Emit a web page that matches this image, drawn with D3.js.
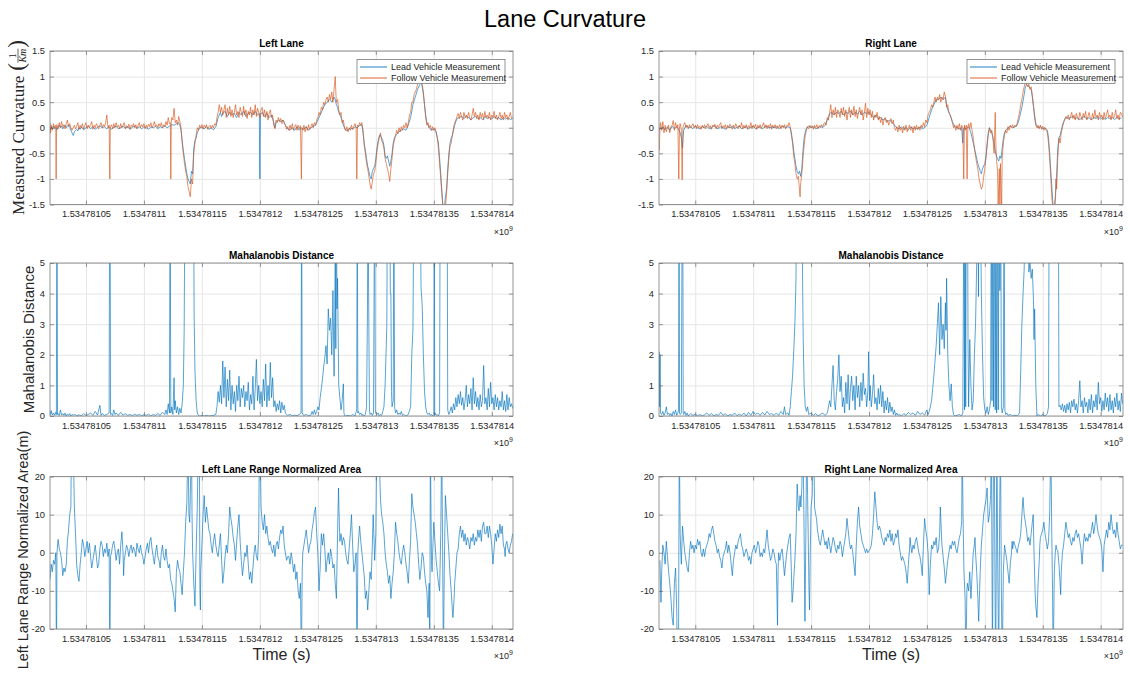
<!DOCTYPE html>
<html>
<head>
<meta charset="utf-8">
<script src="https://cdn.jsdelivr.net/npm/d3@7"></script>
<style>
  html, body { margin: 0; padding: 0; background: #fff; }
  svg { display: block; }
</style>
</head>
<body>
<svg id="fig" width="1130" height="673"></svg>
<script>
// Timestamps are stored as seconds after T0 (Unix time).
const T0 = 1534781000;

const timeTicks = [1534781050, 1534781100, 1534781150, 1534781200, 1534781250, 1534781300, 1534781350, 1534781400];
const timeTickLabels = ["1.53478105", "1.5347811", "1.53478115", "1.5347812", "1.53478125", "1.5347813", "1.53478135", "1.5347814"];
const curvTicks = [-1.5, -1, -0.5, 0, 0.5, 1, 1.5];
const mahalTicks = [0, 1, 2, 3, 4, 5];
const areaTicks = [-20, -10, 0, 10, 20];
const seriesNames = ["Lead Vehicle Measurement", "Follow Vehicle Measurement"];

// Left lane curvature, lead vehicle: [seconds after T0, 1/km]
const leftLead = [[19,-0.05],[20,0.02],[21,-0.03],[22,0.03],[23,-0.02],[24,0.0],[25,-0.04],[26,0.02],[27,0.05],[28,0.0],[29,0.03],[30,-0.02],[31,0.02],[32,0.05],[33,0.0],[34,0.03],[35,0.06],[36,0.02],[37,-0.05],[38,-0.1],[39,-0.15],[40,-0.08],[41,-0.05],[42,-0.03],[43,-0.06],[44,0.0],[45,-0.03],[46,0.02],[48,-0.04],[50,0.0],[52,0.03],[54,-0.02],[56,0.02],[58,-0.03],[60,0.01],[62,0.04],[64,0.0],[66,0.02],[68,-0.02],[70,0.02],[72,-0.03],[74,0.01],[76,0.03],[78,-0.02],[80,0.0],[82,0.03],[84,-0.01],[86,0.02],[88,-0.03],[90,0.01],[92,0.03],[94,-0.01],[96,0.02],[98,-0.02],[100,0.02],[102,0.0],[104,-0.03],[106,0.02],[108,0.0],[110,0.03],[112,-0.02],[114,0.02],[116,0.0],[118,0.04],[120,0.0],[122,0.03],[124,0.06],[126,0.05],[128,0.08],[130,0.1],[131,0.05],[132,-0.05],[133,-0.25],[134,-0.45],[135,-0.6],[136,-0.75],[137,-0.9],[138,-1.0],[139,-1.05],[140,-1.1],[141,-0.85],[142,-0.9],[143,-0.4],[144,-0.25],[145,-0.2],[146,-0.1],[147,-0.05],[148,0.0],[150,0.0],[152,-0.02],[154,0.02],[156,-0.03],[158,0.0],[160,-0.04],[162,0.02],[163,0.1],[164,0.2],[165,0.25],[166,0.3],[167,0.22],[168,0.28],[170,0.32],[172,0.22],[174,0.3],[176,0.25],[178,0.28],[180,0.2],[182,0.3],[184,0.25],[186,0.32],[188,0.22],[190,0.28],[192,0.3],[194,0.25],[196,0.32],[198,0.25],[199.5,0.28],[200,-1.0],[200.5,0.25],[202,0.3],[204,0.22],[206,0.28],[208,0.2],[210,0.25],[212,0.1],[213,0.0],[214,0.1],[216,0.15],[218,0.12],[220,0.15],[222,0.05],[224,-0.02],[226,-0.05],[228,0.0],[230,-0.05],[232,0.02],[234,-0.05],[236,0.0],[238,-0.03],[240,0.02],[242,-0.05],[244,0.0],[246,0.03],[248,0.05],[250,0.15],[252,0.25],[254,0.35],[256,0.45],[258,0.5],[260,0.55],[262,0.5],[264,0.6],[265,0.55],[266,0.45],[267,0.4],[268,0.3],[270,0.2],[272,0.05],[274,-0.05],[276,-0.05],[278,0.0],[280,-0.03],[282,0.02],[284,0.0],[286,0.05],[288,0.05],[289,-0.1],[290,-0.3],[291,-0.45],[292,-0.6],[293,-0.75],[294,-0.85],[295,-0.95],[296,-1.0],[297,-0.85],[298,-0.8],[299,-0.75],[300,-0.6],[301,-0.4],[302,-0.25],[303,-0.15],[304,-0.15],[305,-0.2],[306,-0.25],[307,-0.35],[308,-0.55],[309,-0.6],[310,-0.55],[311,-0.65],[312,-0.75],[313,-0.65],[314,-0.5],[315,-0.3],[316,-0.2],[318,-0.12],[320,-0.08],[322,-0.05],[324,-0.02],[326,-0.05],[328,0.05],[330,0.2],[332,0.45],[334,0.6],[336,0.75],[338,0.85],[339,0.9],[340,0.8],[341,0.65],[342,0.45],[343,0.25],[344,0.1],[346,0.0],[348,-0.05],[350,-0.02],[352,-0.08],[354,-0.3],[355,-0.6],[356,-0.9],[357,-1.25],[358,-1.6],[359,-1.6],[360,-1.35],[361,-1.2],[362,-0.8],[363,-0.5],[364,-0.3],[365,-0.2],[366,-0.15],[367,-0.05],[368,0.05],[369,0.12],[370,0.18],[372,0.2],[374,0.22],[376,0.18],[378,0.22],[380,0.2],[382,0.15],[384,0.2],[386,0.22],[388,0.18],[390,0.2],[392,0.16],[394,0.22],[396,0.18],[398,0.2],[400,0.17],[402,0.22],[404,0.18],[406,0.2],[408,0.15],[410,0.2],[412,0.17],[414,0.2],[416,0.16],[418,0.18]];

// Left lane curvature, follow vehicle
const leftFollow = [[19,0.1],[19.5,-0.1],[20,0.05],[21,-0.05],[22,0.08],[23,0.0],[24,0.05],[24.3,-1.0],[24.6,0.02],[25,0.06],[26,-0.02],[27,0.1],[28,0.0],[29,0.12],[30,0.02],[31,0.06],[32,-0.02],[33,0.08],[34,0.15],[35,0.02],[36,0.08],[37,0.0],[38,-0.05],[39,0.0],[40,0.05],[41,-0.02],[42,0.03],[43,0.1],[44,-0.03],[45,0.05],[46,0.0],[47,0.08],[48,-0.03],[49,0.04],[50,0.1],[51,-0.02],[52,0.05],[53,0.0],[54,0.06],[55,0.12],[56,-0.03],[57,0.05],[58,0.0],[59,0.08],[60,0.03],[61,-0.02],[62,0.05],[63,0.1],[64,0.0],[65,0.06],[66,0.02],[67,0.1],[68,0.25],[69,0.0],[70,0.05],[70.6,-1.0],[71,0.02],[72,0.06],[73,-0.02],[74,0.08],[75,0.0],[76,0.1],[77,0.02],[78,0.05],[79,-0.02],[80,0.08],[81,0.0],[82,0.05],[83,0.1],[84,-0.02],[85,0.04],[86,0.0],[87,0.07],[88,-0.03],[89,0.05],[90,0.02],[91,0.08],[92,0.0],[93,0.06],[94,-0.02],[95,0.05],[96,0.1],[97,0.0],[98,0.06],[99,0.02],[100,0.08],[101,-0.02],[102,0.05],[103,0.0],[104,0.07],[105,0.02],[106,0.1],[107,0.0],[108,0.05],[109,0.12],[110,0.02],[111,0.06],[112,0.0],[113,0.08],[114,0.03],[115,0.1],[116,0.0],[117,0.06],[118,0.02],[119,0.12],[120,0.05],[121,0.2],[122,0.08],[122.8,0.1],[123.2,-1.0],[123.6,0.1],[124,0.2],[125,0.15],[126,0.38],[127,0.1],[128,0.15],[129,0.05],[130,0.22],[131,0.12],[132,0.0],[133,-0.3],[134,-0.5],[135,-0.7],[136,-0.85],[137,-0.95],[138,-1.15],[139,-1.25],[140,-1.35],[141,-1.0],[142,-1.1],[143,-0.5],[144,-0.3],[145,-0.15],[146,0.0],[147,-0.05],[148,0.05],[149,0.0],[150,0.06],[151,-0.02],[152,0.05],[153,0.0],[154,0.06],[155,-0.03],[156,0.02],[157,0.05],[158,-0.02],[159,0.05],[160,0.0],[161,0.08],[162,0.05],[163,0.2],[164,0.3],[165,0.45],[166,0.3],[167,0.4],[168,0.25],[169,0.35],[170,0.45],[171,0.2],[172,0.38],[173,0.25],[174,0.42],[175,0.22],[176,0.35],[177,0.2],[178,0.3],[179,0.45],[180,0.25],[181,0.32],[182,0.2],[183,0.4],[184,0.3],[185,0.22],[186,0.42],[187,0.25],[188,0.35],[189,0.18],[190,0.32],[191,0.25],[192,0.4],[193,0.2],[194,0.35],[195,0.25],[196,0.45],[197,0.22],[198,0.38],[199,0.3],[200,0.2],[201,0.35],[202,0.4],[203,0.22],[204,0.35],[205,0.2],[206,0.32],[207,0.15],[208,0.28],[209,0.35],[210,0.2],[211,0.25],[212,0.05],[213,-0.02],[214,0.15],[215,0.1],[216,0.2],[217,0.12],[218,0.18],[219,0.08],[220,0.15],[221,0.1],[222,0.05],[223,-0.03],[224,0.02],[225,-0.05],[226,0.05],[227,-0.03],[228,0.08],[229,-0.05],[230,0.02],[231,0.06],[232,-0.05],[233,0.05],[234,-0.02],[235,0.04],[235.8,-1.0],[236.4,0.0],[237,-0.05],[238,0.05],[239,-0.08],[240,0.02],[241,-0.05],[242,0.06],[243,-0.03],[244,0.02],[245,0.08],[246,0.0],[247,0.1],[248,0.05],[249,0.15],[250,0.2],[251,0.3],[252,0.25],[253,0.4],[254,0.35],[255,0.5],[256,0.45],[257,0.55],[258,0.6],[259,0.5],[260,0.65],[261,0.55],[262,0.7],[263,0.5],[264,0.75],[265,1.0],[265.5,0.7],[266,0.5],[267,0.55],[268,0.35],[269,0.25],[270,0.3],[271,0.1],[272,0.15],[273,0.0],[274,-0.05],[275,0.02],[276,-0.08],[277,0.0],[278,-0.05],[279,0.05],[280,-0.03],[281,0.02],[282,0.08],[283,0.0],[283.6,-1.0],[284.2,0.05],[285,0.02],[286,0.1],[287,0.05],[288,0.1],[289,-0.05],[290,-0.35],[291,-0.5],[292,-0.7],[293,-0.8],[294,-0.95],[295,-1.1],[296,-1.2],[297,-1.05],[298,-0.9],[299,-0.85],[300,-0.7],[301,-0.45],[302,-0.3],[303,-0.2],[304,-0.1],[305,-0.25],[306,-0.3],[307,-0.4],[308,-0.6],[309,-0.7],[310,-0.8],[311,-0.9],[312,-1.05],[313,-0.8],[314,-0.6],[315,-0.35],[316,-0.25],[317,-0.15],[318,-0.05],[319,-0.12],[320,0.0],[321,-0.08],[322,0.02],[323,-0.05],[324,0.05],[325,0.0],[326,0.1],[327,0.0],[328,0.1],[329,0.25],[330,0.3],[331,0.5],[332,0.5],[333,0.65],[334,0.7],[335,0.75],[336,0.85],[337,0.9],[338,0.95],[339,0.9],[340,0.85],[341,0.7],[342,0.45],[343,0.2],[344,0.05],[345,0.1],[346,0.0],[347,0.05],[348,-0.05],[349,0.02],[350,-0.05],[351,0.0],[352,-0.1],[353,-0.2],[354,-0.4],[355,-0.7],[356,-1.0],[357,-1.3],[358,-1.6],[359,-1.7],[360,-1.55],[361,-1.3],[362,-0.9],[363,-0.6],[364,-0.35],[365,-0.3],[366,-0.15],[367,0.0],[368,0.1],[369,0.15],[370,0.22],[371,0.28],[372,0.18],[373,0.3],[374,0.22],[375,0.15],[376,0.3],[377,0.2],[378,0.25],[379,0.18],[380,0.3],[381,0.2],[382,0.15],[383,0.25],[384,0.38],[385,0.22],[386,0.3],[387,0.18],[388,0.25],[389,0.15],[390,0.3],[391,0.2],[392,0.28],[393,0.15],[394,0.32],[395,0.2],[396,0.25],[397,0.18],[398,0.3],[399,0.15],[400,0.25],[401,0.2],[402,0.32],[403,0.18],[404,0.25],[405,0.15],[406,0.22],[407,0.3],[408,0.18],[409,0.25],[410,0.15],[411,0.3],[412,0.2],[413,0.25],[414,0.15],[415,0.22],[416,0.3],[417,0.18],[418,0.2]];

// Right lane curvature, lead vehicle
const rightLead = [[19,-0.05],[20,0.0],[21,-0.03],[22,0.02],[24,-0.04],[26,0.02],[28,-0.05],[30,0.03],[32,-0.02],[34,0.02],[36,-0.05],[37,-0.1],[38,-0.2],[39,-0.4],[39.5,-0.2],[40,-0.05],[41,0.0],[42,0.05],[44,0.0],[46,0.02],[48,-0.02],[50,0.03],[52,0.0],[54,-0.02],[56,0.02],[58,0.0],[60,0.03],[62,-0.02],[64,0.0],[66,0.04],[68,0.0],[70,-0.02],[72,0.02],[74,0.0],[76,-0.03],[78,0.02],[80,0.0],[82,0.03],[84,-0.02],[86,0.01],[88,0.03],[90,-0.02],[92,0.0],[94,0.02],[96,-0.02],[98,0.01],[100,0.03],[102,-0.02],[104,0.0],[106,0.02],[108,-0.02],[110,0.01],[112,0.03],[114,-0.01],[116,0.02],[118,0.0],[120,0.02],[122,-0.02],[124,0.01],[126,0.03],[128,0.0],[130,0.02],[132,0.0],[133,-0.1],[134,-0.25],[135,-0.45],[136,-0.6],[137,-0.75],[138,-0.85],[139,-0.9],[140,-0.85],[141,-0.95],[142,-0.8],[143,-0.45],[144,-0.2],[145,-0.08],[146,0.0],[148,0.03],[150,0.0],[152,0.02],[154,-0.02],[156,0.0],[158,0.03],[160,0.0],[162,0.05],[163,0.1],[164,0.15],[165,0.2],[166,0.28],[168,0.3],[170,0.25],[172,0.3],[174,0.28],[176,0.32],[178,0.25],[180,0.3],[182,0.28],[184,0.33],[186,0.25],[188,0.3],[190,0.27],[192,0.32],[194,0.25],[196,0.3],[198,0.28],[200,0.3],[202,0.25],[204,0.2],[206,0.25],[208,0.18],[210,0.2],[212,0.15],[214,0.18],[216,0.12],[218,0.15],[220,0.1],[222,0.05],[224,0.0],[226,-0.02],[228,0.02],[230,-0.03],[232,0.0],[234,-0.04],[236,0.02],[238,-0.02],[240,0.0],[242,-0.03],[244,0.02],[246,-0.02],[248,0.0],[250,0.05],[252,0.2],[254,0.35],[256,0.45],[258,0.55],[260,0.55],[262,0.6],[264,0.55],[266,0.6],[267,0.45],[268,0.35],[270,0.25],[272,0.12],[274,0.02],[276,0.0],[278,-0.02],[280,0.0],[281,-0.3],[281.5,-0.05],[282,0.0],[284,-0.02],[286,0.02],[288,-0.1],[290,-0.3],[292,-0.5],[294,-0.7],[296,-0.85],[297,-0.9],[298,-0.8],[300,-0.7],[301,-0.55],[302,-0.3],[303,-0.1],[304,0.0],[305,-0.05],[306,-0.1],[307,-0.2],[308,-0.3],[309,-0.45],[310,-0.55],[311,-0.6],[312,-0.65],[313,-0.55],[314,-0.6],[315,-0.4],[316,-0.2],[317,-0.1],[318,-0.05],[320,0.0],[322,0.03],[324,0.0],[326,0.02],[328,0.05],[330,0.2],[332,0.4],[334,0.65],[335,0.8],[336,0.85],[338,0.8],[340,0.75],[341,0.6],[342,0.4],[343,0.2],[344,0.05],[346,0.0],[348,0.02],[350,-0.02],[352,0.0],[354,-0.05],[355,-0.2],[356,-0.5],[357,-0.85],[358,-1.2],[359,-1.55],[360,-1.6],[361,-1.3],[362,-0.9],[363,-0.4],[364,-0.2],[365,-0.15],[366,-0.05],[367,0.05],[368,0.12],[369,0.17],[370,0.2],[372,0.18],[374,0.2],[376,0.22],[378,0.18],[380,0.2],[382,0.16],[384,0.2],[386,0.22],[388,0.17],[390,0.2],[392,0.15],[394,0.2],[396,0.18],[398,0.21],[400,0.17],[402,0.2],[404,0.16],[406,0.2],[408,0.18],[410,0.2],[412,0.16],[414,0.2],[416,0.18],[418,0.19]];

// Right lane curvature, follow vehicle
const rightFollow = [[19,-0.45],[19.5,0.0],[20,0.1],[21,-0.05],[22,0.12],[23,-0.1],[24,0.05],[25,-0.08],[26,0.0],[27,0.05],[28,-0.1],[29,0.02],[30,0.05],[31,0.14],[32,-0.05],[33,0.1],[34,0.0],[35,0.06],[35.8,-1.0],[36.4,0.02],[37,0.08],[38,-0.05],[38.7,-1.02],[39.3,0.0],[40,0.06],[41,0.1],[42,0.0],[43,0.05],[44,-0.02],[45,0.06],[46,0.0],[47,0.04],[48,0.08],[49,0.0],[50,0.05],[51,-0.02],[52,0.06],[53,0.0],[54,0.03],[55,-0.03],[56,0.05],[57,0.0],[58,0.06],[59,-0.02],[60,0.04],[61,0.08],[62,0.0],[63,0.04],[64,-0.03],[65,0.05],[66,0.02],[67,0.07],[68,-0.02],[69,0.05],[70,0.0],[71,0.06],[72,0.1],[73,-0.02],[74,0.04],[75,0.0],[76,0.06],[77,-0.03],[78,0.05],[79,0.0],[80,0.07],[81,0.02],[82,-0.03],[83,0.05],[84,0.0],[85,0.08],[86,0.02],[87,-0.02],[88,0.05],[89,0.0],[90,0.1],[91,-0.02],[92,0.05],[93,0.0],[94,0.06],[95,-0.03],[96,0.04],[97,0.0],[98,0.1],[99,-0.02],[100,0.05],[101,0.0],[102,0.07],[103,-0.03],[104,0.05],[105,0.0],[106,0.06],[107,-0.02],[108,0.04],[109,0.1],[110,0.0],[111,0.06],[112,-0.02],[113,0.05],[114,0.0],[115,0.08],[116,-0.03],[117,0.05],[118,0.0],[119,0.06],[120,-0.02],[121,0.04],[122,0.0],[123,0.06],[124,-0.02],[125,0.05],[126,0.0],[127,0.06],[128,-0.02],[129,0.05],[130,0.03],[131,0.1],[132,0.02],[133,-0.15],[134,-0.3],[135,-0.55],[136,-0.7],[137,-0.9],[138,-1.0],[139,-0.95],[140,-1.2],[140.5,-1.35],[141,-1.1],[142,-0.9],[143,-0.6],[144,-0.35],[145,-0.15],[146,-0.05],[147,0.02],[148,-0.02],[149,0.05],[150,0.0],[151,0.04],[152,-0.03],[153,0.05],[154,0.0],[155,0.06],[156,-0.02],[157,0.04],[158,0.0],[159,0.06],[160,0.02],[161,0.08],[162,0.1],[163,0.05],[164,0.2],[165,0.15],[166,0.3],[167,0.45],[168,0.2],[169,0.35],[170,0.25],[171,0.4],[172,0.2],[173,0.35],[174,0.3],[175,0.2],[176,0.38],[177,0.25],[178,0.4],[179,0.22],[180,0.35],[181,0.15],[182,0.3],[183,0.4],[184,0.2],[185,0.35],[186,0.25],[187,0.42],[188,0.22],[189,0.35],[190,0.18],[191,0.3],[192,0.4],[193,0.25],[194,0.35],[195,0.15],[196,0.3],[197,0.48],[198,0.2],[199,0.38],[200,0.25],[201,0.35],[202,0.2],[203,0.32],[204,0.15],[205,0.25],[206,0.2],[207,0.3],[208,0.15],[209,0.22],[210,0.1],[211,0.2],[212,0.05],[213,0.15],[214,0.2],[215,0.1],[216,0.15],[217,0.05],[218,0.12],[219,0.18],[220,0.08],[221,0.15],[222,0.0],[223,-0.05],[224,0.02],[225,-0.08],[226,0.05],[227,-0.05],[228,0.0],[229,-0.1],[230,0.03],[231,-0.05],[232,0.05],[233,-0.08],[234,0.0],[235,0.05],[236,-0.05],[237,0.02],[238,-0.1],[239,0.03],[240,-0.05],[241,0.05],[242,-0.03],[243,0.02],[244,-0.05],[245,0.05],[246,0.0],[247,0.1],[248,0.02],[249,0.15],[250,0.1],[251,0.25],[252,0.3],[253,0.35],[254,0.45],[255,0.4],[256,0.5],[257,0.6],[258,0.5],[259,0.6],[260,0.55],[261,0.65],[262,0.5],[263,0.6],[264,0.55],[265,0.7],[266,0.6],[267,0.4],[268,0.45],[269,0.3],[270,0.25],[271,0.2],[272,0.1],[273,0.0],[274,0.05],[275,-0.05],[276,0.05],[277,-0.03],[278,0.08],[279,-0.05],[280,0.05],[281,0.0],[281.8,-1.0],[282.4,0.05],[283,-0.05],[284,0.05],[284.7,-1.0],[285.3,0.02],[286,0.08],[287,-0.02],[288,0.1],[289,-0.05],[290,-0.2],[291,-0.4],[292,-0.55],[293,-0.7],[294,-0.8],[295,-1.0],[296,-1.1],[297,-1.2],[298,-1.15],[299,-0.95],[300,-0.8],[301,-0.6],[302,-0.35],[303,-0.15],[304,0.0],[305,-0.1],[306,-0.05],[307,-0.2],[308,-0.5],[309,0.3],[309.5,-0.3],[310,-0.6],[311,-0.85],[311.5,-1.5],[312,-1.2],[312.5,-0.8],[313,-1.6],[313.5,-0.7],[314,-1.2],[314.5,-1.6],[315,-0.6],[316,-0.3],[317,-0.15],[318,-0.05],[319,-0.1],[320,0.02],[321,-0.05],[322,0.05],[323,0.0],[324,0.06],[325,0.0],[326,0.05],[327,0.02],[328,0.1],[329,0.2],[330,0.3],[331,0.45],[332,0.55],[333,0.7],[334,0.8],[335,0.9],[336,0.85],[337,0.8],[338,0.85],[339,0.75],[340,0.8],[341,0.65],[342,0.45],[343,0.25],[344,0.1],[345,0.0],[346,0.05],[347,-0.02],[348,0.05],[349,-0.03],[350,0.03],[351,-0.05],[352,0.0],[353,-0.05],[354,-0.1],[355,-0.3],[356,-0.6],[357,-1.0],[358,-1.4],[359,-1.6],[360,-1.6],[361,-1.4],[361.5,-1.0],[362,-1.2],[363,-0.6],[364,-0.2],[365,-0.3],[366,-0.1],[367,0.0],[368,0.1],[369,0.15],[370,0.22],[371,0.18],[372,0.25],[373,0.15],[374,0.22],[375,0.3],[376,0.18],[377,0.25],[378,0.15],[379,0.28],[380,0.2],[381,0.15],[382,0.3],[383,0.22],[384,0.15],[385,0.28],[386,0.2],[387,0.32],[388,0.15],[389,0.22],[390,0.3],[391,0.2],[392,0.15],[393,0.28],[394,0.18],[395,0.35],[396,0.2],[397,0.25],[398,0.15],[399,0.3],[400,0.2],[401,0.25],[402,0.15],[403,0.3],[404,0.18],[405,0.25],[406,0.35],[407,0.2],[408,0.25],[409,0.15],[410,0.3],[411,0.18],[412,0.22],[413,0.35],[414,0.18],[415,0.25],[416,0.15],[417,0.3],[418,0.28],[419,0.2]];

// Mahalanobis distance, left lane (values above 5 run off the top of the axes)
const leftMahal = [[19,0.15],[19.5,0.05],[20,0.18],[21,0.03],[22,0.1],[23,0.02],[24,0.12],[24.5,0.05],[25,8],[25.5,0.05],[26,0.08],[27,0.02],[28,0.2],[29,0.03],[30,0.08],[31,0.02],[32,0.1],[33,0.0],[34,0.06],[35,0.02],[36,0.08],[37,0.0],[38,0.05],[39,0.02],[40,0.06],[42,0.01],[44,0.04],[46,0.0],[48,0.08],[50,0.02],[52,0.05],[54,0.1],[56,0.02],[58,0.15],[60,0.03],[62,0.35],[63,0.02],[64,0.08],[66,0.02],[68,0.05],[70,0.1],[70.4,8],[70.8,8],[71.2,0.05],[72,0.08],[73,0.02],[74,0.2],[75,0.05],[76,0.1],[78,0.02],[80,0.12],[82,0.03],[84,0.08],[86,0.02],[88,0.05],[90,0.01],[92,0.06],[94,0.02],[96,0.05],[98,0.01],[100,0.04],[102,0.02],[104,0.06],[106,0.0],[108,0.05],[110,0.02],[112,0.08],[114,0.02],[116,0.12],[118,0.05],[119,0.2],[120,0.05],[121,0.4],[122,0.1],[122.6,8],[123.2,0.1],[124,0.3],[125,0.05],[126,1.25],[126.5,0.2],[127,0.5],[128,0.1],[129,0.3],[130,0.05],[131,0.25],[132,0.1],[133,0.4],[134,1.0],[134.7,2.8],[135.5,8],[136,8],[138,8],[140,8],[142,8],[142.8,8],[143.3,3.3],[144,1.5],[145,0.5],[146,0.1],[147,0.02],[148,0.0],[150,0.01],[152,0.0],[154,0.02],[156,0.0],[158,0.01],[160,0.02],[162,0.05],[163,0.3],[164,0.8],[165,0.45],[166,1.0],[167,0.4],[168,1.8],[169,0.6],[170,1.6],[171,0.3],[172,1.2],[173,0.5],[174,1.5],[175,0.2],[176,1.0],[177,0.4],[178,0.8],[179,0.15],[180,1.0],[181,0.5],[182,1.3],[183,0.3],[184,0.9],[185,0.6],[186,1.0],[187,0.3],[188,0.8],[189,0.5],[190,1.1],[191,0.2],[192,0.7],[193,0.4],[194,1.3],[195,0.2],[196,0.9],[197,1.85],[198,0.5],[199,1.0],[200,0.4],[201,0.8],[202,0.3],[203,1.2],[204,0.5],[205,1.7],[206,0.3],[207,1.0],[208,0.5],[209,1.75],[210,0.6],[211,1.25],[212,0.3],[213,0.5],[214,0.15],[215,0.4],[216,0.2],[217,0.5],[218,0.1],[219,0.45],[220,0.2],[221,0.35],[222,0.1],[223,0.05],[224,0.02],[226,0.05],[228,0.0],[230,0.03],[232,0.01],[234,0.05],[235.5,0.1],[236,8],[236.5,0.1],[237,0.05],[238,0.02],[240,0.05],[242,0.01],[244,0.03],[245,0.15],[246,0.05],[247,0.2],[248,0.05],[249,0.15],[250,0.3],[251,0.2],[252,0.6],[253,0.9],[254,1.2],[255,1.6],[256,1.9],[257,2.3],[258,1.7],[259,3.5],[260,2.8],[261,3.2],[262,2.0],[263,4.1],[264,1.3],[265,5.0],[265.5,2.2],[266,8],[266.5,3.5],[267,4.5],[268,1.0],[269,0.6],[270,0.2],[271,0.5],[272,1.05],[272.5,0.1],[273,0.02],[274,0.0],[276,0.02],[278,0.0],[280,0.05],[282,0.0],[283.5,0.2],[284,8],[284.5,0.1],[285,0.15],[286,0.05],[287,0.1],[288,0.02],[289,0.05],[290,0.0],[291,0.05],[292,0.3],[292.8,3.5],[293.3,8],[293.8,4.0],[294.5,0.2],[295,0.05],[296,0.1],[297,0.02],[298,0.1],[299,8],[299.6,0.2],[300,0.1],[301,0.05],[302,0.1],[303,0.0],[304,0.05],[305,0.02],[306,0.15],[307,0.3],[308,1.0],[309,2.3],[309.5,3.0],[310,8],[311,8],[312,8],[312.5,4.0],[313,4.0],[313.5,0.8],[314,0.3],[315,0.5],[315.6,8],[316.2,0.3],[317,0.1],[318,0.2],[319,0.05],[320,0.1],[321,0.05],[322,0.15],[323,0.02],[324,0.05],[326,0.0],[328,0.05],[330,0.3],[331,2.0],[332,2.8],[333,8],[334,8],[336,8],[338,8],[339,4.2],[340,3.6],[341,2.0],[342,0.8],[343,0.3],[344,0.1],[345,0.05],[346,0.1],[347,0.02],[348,0.05],[349,0.0],[350,0.05],[350.4,8],[350.8,0.05],[351,0.1],[352,0.02],[353,0.05],[354,0.0],[355,0.1],[355.5,8],[356,8],[358,8],[360,8],[361.5,8],[362,0.2],[363,0.05],[364,0.15],[365,0.3],[366,0.1],[367,0.4],[368,0.2],[369,0.6],[370,0.3],[371,0.7],[372,0.4],[373,0.8],[374,0.35],[375,0.6],[376,0.2],[377,0.5],[378,1.0],[379,0.3],[380,0.7],[381,0.4],[382,0.9],[383,0.2],[384,1.25],[385,0.4],[386,0.8],[387,0.3],[388,0.6],[389,0.2],[390,0.7],[391,0.3],[392,0.5],[393,1.65],[394,0.4],[395,0.6],[396,0.2],[397,0.9],[398,0.3],[399,1.1],[400,0.4],[401,0.6],[402,0.2],[403,0.7],[404,0.3],[405,0.6],[406,0.2],[407,0.5],[408,0.3],[409,0.8],[410,0.2],[411,0.5],[412,0.15],[413,0.7],[414,0.2],[415,0.6],[416,0.3],[417,0.4],[418,0.25]];

// Mahalanobis distance, right lane
const rightMahal = [[19,2.1],[19.3,0.3],[19.6,2.0],[20,0.1],[21,0.05],[22,0.15],[23,0.02],[24,0.1],[25,0.3],[26,0.05],[27,0.1],[28,0.02],[29,0.08],[30,0.0],[31,0.15],[32,0.05],[33,0.2],[34,0.02],[35,0.1],[35.6,0.2],[36,8],[36.4,0.1],[37,0.05],[38,0.1],[38.8,8],[39.2,8],[39.6,0.1],[40,0.05],[41,0.15],[42,0.02],[43,0.1],[44,0.0],[46,0.08],[48,0.02],[50,0.06],[52,0.01],[54,0.05],[56,0.0],[58,0.04],[60,0.1],[62,0.02],[64,0.08],[66,0.0],[68,0.05],[70,0.02],[72,0.12],[74,0.02],[76,0.08],[78,0.0],[80,0.05],[82,0.02],[84,0.1],[86,0.01],[88,0.06],[90,0.02],[92,0.1],[94,0.0],[96,0.12],[98,0.02],[100,0.15],[102,0.05],[104,0.1],[106,0.02],[108,0.12],[110,0.03],[112,0.15],[114,0.05],[116,0.08],[118,0.02],[120,0.1],[122,0.02],[124,0.15],[126,0.05],[127,0.3],[128,0.05],[130,0.1],[131,0.02],[132,0.3],[133,0.8],[134,1.3],[135,2.1],[136,3.0],[137,4.5],[137.5,8],[139,8],[141,8],[142,8],[142.7,4.3],[143.2,2.5],[144,1.0],[145,0.3],[146,0.15],[147,0.3],[148,0.05],[150,0.1],[152,0.02],[154,0.08],[156,0.0],[158,0.05],[160,0.1],[162,0.02],[164,0.1],[165,0.3],[166,0.5],[167,0.3],[168,1.0],[169,1.65],[170,0.5],[171,0.2],[172,0.8],[173,1.2],[174,2.0],[175,0.8],[176,1.3],[177,0.3],[178,0.6],[179,0.1],[180,1.1],[181,0.4],[182,1.35],[183,0.2],[184,0.9],[185,1.3],[186,0.5],[187,1.0],[188,0.2],[189,1.3],[190,0.6],[191,1.0],[192,0.3],[193,1.1],[194,0.5],[195,1.4],[196,0.7],[197,0.9],[198,0.3],[199,0.8],[199.7,2.1],[200.5,0.5],[201,1.0],[202,0.3],[203,0.7],[204,1.35],[205,0.4],[206,0.6],[207,0.2],[208,0.9],[209,0.4],[210,1.0],[211,0.3],[212,0.8],[213,0.1],[214,0.5],[215,0.2],[216,0.6],[217,0.1],[218,0.45],[219,0.15],[220,0.3],[221,0.05],[222,0.2],[223,0.02],[224,0.1],[225,0.02],[226,0.05],[228,0.0],[230,0.08],[232,0.02],[234,0.12],[236,0.05],[238,0.1],[240,0.02],[242,0.15],[244,0.05],[246,0.1],[248,0.03],[250,0.2],[251,0.05],[252,0.15],[253,0.3],[254,0.5],[255,0.9],[256,1.3],[257,1.8],[258,2.3],[259,3.0],[260,3.7],[261,2.0],[262,3.9],[263,2.5],[264,3.0],[265,2.2],[266,3.7],[266.5,2.8],[267,4.5],[268,2.0],[269,1.0],[270,0.5],[271,1.05],[272,0.3],[273,0.05],[274,0.0],[276,0.02],[278,0.05],[280,0.0],[281,0.1],[282,8],[282.5,0.2],[283,8],[283.5,0.3],[284,8],[285,8],[285.5,2.5],[286,0.3],[287,2.5],[288,1.0],[289,0.2],[290,0.5],[291,2.0],[292,3.0],[293,5.0],[294,8],[294.5,3.9],[295,8],[296,8],[297,4.0],[298,2.0],[299,0.6],[300,0.2],[301,0.1],[302,0.3],[303,0.05],[304,0.2],[305,0.5],[305.6,8],[306.2,0.5],[307,8],[307.6,0.3],[308.3,8],[309,0.2],[309.6,8],[310.2,0.1],[311,8],[311.6,0.2],[312.3,8],[313,4.1],[313.7,8],[314.3,0.3],[315,0.1],[316,0.3],[316.6,8],[317.3,0.2],[318,0.05],[319,0.1],[320,0.02],[322,0.05],[324,0.0],[326,0.03],[328,0.0],[330,0.1],[331,1.5],[332,3.0],[333,4.0],[334,4.8],[335,8],[336,8],[337,8],[338,4.7],[339,5.0],[340,4.5],[341,4.8],[342,3.8],[342.5,2.5],[343,3.5],[344,1.0],[345,0.0],[346,0.05],[348,0.0],[350,0.05],[352,0.0],[354,0.08],[355,0.3],[355.6,8],[356,8],[358,8],[360,8],[362,8],[363.5,8],[364,0.3],[365,0.35],[366,0.2],[367,0.4],[368,0.15],[369,0.35],[370,0.1],[371,0.4],[372,0.2],[373,0.45],[374,0.1],[375,0.5],[376,0.3],[377,0.55],[378,0.2],[379,0.4],[380,0.1],[381,0.5],[382,1.15],[383,0.3],[384,0.5],[385,0.1],[386,0.6],[387,0.3],[388,0.45],[389,0.1],[390,0.55],[391,0.2],[392,0.7],[393,0.1],[394,0.5],[395,0.3],[396,0.7],[397,0.2],[398,1.1],[399,0.4],[400,0.6],[401,0.15],[402,0.5],[403,0.2],[404,0.75],[405,0.3],[406,0.6],[407,0.15],[408,0.7],[409,0.2],[410,0.5],[411,0.1],[412,0.6],[413,0.3],[414,0.75],[415,0.2],[416,0.5],[417,0.15],[418,0.75],[419,0.4]];

// Range-normalized area, left lane (m); values beyond +/-20 run off the axes
const leftArea = [[19,-7],[20,-3],[21,-5],[22,-2],[23,-3],[24,0],[24.6,-30],[25,0],[26,3.5],[27,1],[28,0],[29,-2],[30,-6],[31,-4],[32,-5],[33,-3],[34,3],[35,6],[36,10],[37,12],[37.5,30],[39,30],[40,12],[41,5],[42,-3],[43,-6],[44,-7.5],[45,-3],[46,0],[47,3.5],[48,2],[49,-1],[50,1],[51,3],[52,0],[53,2.5],[54,-1],[55,-4],[56,-2],[57,0],[58,2],[59,-1],[60,-4],[61,-3],[62,1],[63,3],[64,2],[65,-1],[66,1],[67,0],[68,2.5],[69,-1],[70,1],[70.6,-30],[71.2,-1],[72,0],[73,2],[74,3],[75,1],[76,-2],[77,0],[78,1],[79,-3],[80,2],[81,5.5],[82,0],[82.5,-6],[83,-2],[84,0],[85,2],[86,1],[87,-1],[88,1],[89,2],[90,0],[91,1.5],[92,0.5],[93,-1],[94,2.5],[95,1],[96,0],[97,2],[98,0],[99,-1],[100,-3],[101,-1],[102,1],[103,2.5],[104,0],[105,3],[106,4],[107,1],[108,-1],[109,-3],[110,0],[111,2],[112,-1],[113,-2],[114,-4],[115,0],[116,2],[117,-1],[118,-2],[119,1],[120,-2],[121,-4],[122,-3],[123,-7],[124,-8],[125,-10],[126,-12],[127,-15.5],[128,-5],[129,-2],[130,-4],[131,-5],[132,-8],[133,-11],[134,-5],[135,0],[136,8],[137,13],[138,30],[138.8,10],[139.5,8],[140,15],[141,30],[141.5,10],[142,0],[143,-8],[144,-14],[145,0],[146,12],[147,30],[147.8,30],[148.3,-10],[148.7,-15],[149,-5],[150,2],[151,10],[152,15],[153,8],[154,12],[155,9],[156,6],[157,5],[158,2],[159,0],[160,3],[161,5],[162,2],[163,0],[164,-1],[165,2],[166,5],[167,-2],[168,-8],[169,-5],[170,-1],[171,2],[172,0],[173,5],[174,12],[175,9],[176,7],[177,4],[178,2],[179,-2],[180,3],[181,7],[182,10],[183,3],[184,-2],[185,-6],[186,-3],[187,0],[188,-1],[189,2],[190,-3],[191,-7],[192,-5],[193,-8],[194,-4],[195,0],[196,2],[197,-1],[198,-2],[199,5],[199.6,30],[200.2,30],[201,12],[202,8],[203,6],[204,10],[205,5],[206,7],[207,4],[208,2],[209,3],[210,1],[211,0],[212,2],[213,-1],[214,2],[215,3],[216,1],[217,4],[218,6],[219,5],[220,7],[221,2],[222,0],[223,-2],[224,-1],[225,-1],[226,-3],[227,0],[228,-2],[229,-5],[230,-3],[231,-7],[232,-5],[233,-10],[234,-12],[235,-8],[235.8,-30],[236.5,-5],[237,0],[238,2],[239,4],[240,6],[241,3],[242,0],[243,2],[244,3],[245,6],[246,8],[247,10.5],[248,12],[249,5],[250,0],[251,-10],[252,-4],[253,5],[254,2],[255,5],[256,1],[257,-5],[258,-2],[259,0],[260,-3],[261,1],[262,-1],[263,-4],[264,-3],[265,-8],[266,-12],[267,5],[267.8,17],[268.5,8],[269,3],[270,5],[271,2],[272,4],[273,3],[274,0],[275,-2],[276,-3],[277,1],[278,5],[279,10],[280,2],[281,-5],[282,-3],[283,0],[283.8,-30],[284.5,0],[285,3],[286,7],[287,3],[288,0],[289,-3],[290,-6],[291,-12],[292,-10],[293,-15],[294,-10],[295,-5],[296,-7],[297,2],[297.7,10],[298.5,3],[299,-2],[300,5],[300.8,30],[302,30],[303,25],[304,14],[305,10],[306,8],[307,5],[308,0],[309,-3],[310,-5],[311,-8],[312,-6],[313,-12],[314,-8],[315,-5],[316,0],[317,8],[318,5],[319,3],[320,0],[321,-2],[322,-3],[323,0],[324,2],[325,0],[326,-3],[327,-5],[328,-8],[329,-2],[330,3],[331,15.5],[332,12],[333,10],[334,8],[335,5],[336,2],[337,-3],[338,-7],[339,-4],[340,0],[341,-1],[342,-5],[343,-8],[344,-10],[345,-17],[346,-8],[346.6,-30],[347,30],[347.6,10],[348,-2],[348.5,-5],[349,0],[350,8],[351,3],[352,-2],[353,-5],[354,-8],[355,-10],[356,5],[356.8,30],[357.5,5],[358.3,-30],[359,-5],[360,15],[361,10],[362,5],[363,0],[364,-6],[365,-10],[366,-15],[366.5,-17],[367.5,-12],[368,-8],[369,-4],[370,0],[371,1],[372,5],[373,7],[374,4],[375,6],[376,3],[377,5],[378,2],[379,4],[380,3],[381,1],[382,4],[383,3],[384,5],[385,2],[386,4],[387,3],[388,6],[389,4],[390,6],[391,3],[392,7],[393,8],[394,5],[395,5],[396,7],[397,4],[398,7],[399,5],[400,2],[401,-3],[402,1],[403,5],[404,3],[405,6],[406,4],[407,7.5],[408,5],[409,7],[410,2],[411,1],[411.5,-1],[412,2],[413,3],[414,1],[415,0],[416,2],[417,3],[418,5]];

// Normalized area, right lane (m)
const rightArea = [[19.5,-2],[20.4,-13],[21,-5],[22,2],[23,0],[24,-3],[25,3],[26,-1],[27,-5],[28,-8],[29,-12],[30,-17],[31,-19],[32,-8],[33,-4],[34,-15],[34.5,-30],[35.5,-30],[36.2,30],[37,5],[37.5,0],[38,-3],[39,7],[40,3],[41,0],[42,-2],[43,-4],[44,-5],[45,0],[46,3],[47,1],[48,2],[49,0],[50,2],[51,1],[52,3.5],[53,2],[54,3],[55,0],[56,-1],[57,1],[58,-1],[59,1],[60,2],[61,3],[62,5],[63,4],[64,6],[65,7],[66,5],[67,3],[68,2],[69,0],[70,1],[71,-1],[72,-2],[73,-4],[74,-1],[75,0],[76,1],[77,3],[78,0],[79,2],[80,0],[81,-3],[82,-6],[83,-2],[84,0],[85,2],[86,1],[87,3],[88,4],[89,5],[90,2],[91,1],[92,-1],[93,0],[94,1],[95,0],[96,-2],[97,-1],[98,-3],[99,0],[100,1],[101,2],[102,0],[103,1],[104,3],[105,2],[106,-1],[107,0],[108,-1],[109,1],[110,0],[111,3],[112,6],[113,2],[114,0],[115,-2],[116,-1],[117,1],[118,0],[119,-2],[120,-3],[121,-19],[121.5,-5],[122,0],[123,-2],[124,0],[125,1],[126,-2],[127,-6],[128,-3],[129,0],[130,2],[131,4],[132,5],[133,-5],[133.6,-13],[134.5,-10],[135,-7],[136,-2],[137,5],[138,18],[139,12],[139.6,11],[140.5,15],[141.2,12],[142,17],[143,30],[143.8,10],[144.7,-18],[145.5,5],[146.2,30],[147,15],[147.5,5],[148.2,-10],[148.7,-15],[149.3,0],[150,12],[151,15],[151.6,30],[152.3,30],[153,12],[154,10],[154.7,9],[155.5,6],[156,5],[157,3],[158,2],[159,4],[160,6],[161,4],[162,2],[163,3],[164,1],[165,4],[166,2],[167,0],[168,2],[169,4],[170,3],[171,1],[172,0],[173,2],[174,1],[175,3],[176,2],[177,-1],[178,1],[179,3],[180,5],[181,9],[182,6],[183,3],[184,1],[185,2],[186,0],[187,-3],[188,-6],[189,2],[190,8],[191,12],[192,7],[193,5],[194,3],[195,2],[196,1],[197,0],[198,1],[199,0],[200,0.5],[201,1],[202,2],[203,5],[204,10],[205,16],[206,12],[207,8],[208,6],[209,7],[210,6],[211,4],[212,3],[213,2],[214,4],[215,3],[216,5],[217,4],[218,6],[219,3],[220,5],[221,2],[222,3],[223,5],[224,4],[225,6],[226,2],[227,0],[228,-2],[229,-1],[230,-2],[231,-3],[232,-5],[233,-8],[234,-3],[235,1],[235.5,4],[236,2],[237,0],[238,2],[239,1],[240,3],[241,4],[242,2],[243,0],[244,-1],[245,-3],[246,-6],[247,2],[248,9],[249,6],[250,4],[251,0],[252,-11],[253,-3],[254,2],[255,1],[256,3],[257,2],[258,4],[259,0],[260,1],[261,5],[261.6,12],[262.4,6],[263,2],[264,-1],[265,-4],[266,-8],[267,-5],[268,-2],[269,0],[270,2],[271,1],[272,3],[273,2],[274,3],[275,1],[276,0],[277,2],[278,4],[279,5],[280,8],[280.5,30],[281.2,10],[282,-5],[283,-12],[283.6,-30],[284.5,-10],[285,-8],[286,-10],[287,-5],[288,-12],[289,-6],[290,0],[291,2],[291.5,4],[292,0],[293,-5],[294,-12],[294.7,-18],[295.5,-10],[296,-5],[297,2],[298,6],[299,10],[300,12],[301,14],[302,17],[302.5,12],[303,8],[304,10],[305,15],[305.7,30],[306.6,-30],[307.4,20],[308.2,30],[308.8,-10],[309.4,-30],[310.4,30],[311.2,-5],[312,-30],[312.8,10],[313.5,30],[314.3,-10],[315,-30],[316,-5],[317,2],[318,0],[319,-2],[320,-5],[321,-8],[322,-3],[323,0],[323.6,3],[324,1],[325,3],[326,2],[327,1],[328,0],[329,2],[330,3],[331,5],[332,10],[333,14.5],[334,10],[335,8],[336,6],[337,3],[338,4],[339,2],[340,5],[341,8],[341.8,10],[342.5,0],[343.4,-10],[344,-14],[345,-17],[346,-8],[347,-2],[347.5,2],[348,4],[349,5],[350,6],[351,8],[352,5],[353,3],[354,1],[355,3],[356,10],[357,30],[357.8,5],[358.5,-10],[359,-30],[360,-5],[360.8,0],[361.5,2],[362,1],[363,0.5],[364,-3],[365,-8],[365.5,-11],[366,-5],[367,0],[368,2],[369,5],[370,8],[371,6],[372,4],[373,5],[374,3],[375,2],[376,4],[377,3],[378,5],[379,6],[380,4],[381,5],[382,3],[383,1],[384,-3],[385,2],[386,5],[387,3],[388,4],[389,3],[390,5],[391,4],[392,6],[393,8],[394,5],[395,7],[396,10],[397,7],[398,5],[399,4],[400,3],[401,1],[402,-5],[403,2],[404,4],[405,6],[406,4],[407,8],[408,6],[409,10],[410,7],[411,5],[412,6],[413,4],[414,8],[415,5],[416,3],[417,1],[418,2],[419,2]];

// ---------------------------------------------------------------- drawing
const BLUE = "#0072BD", ORANGE = "#D95319";
const SANS = "'Liberation Sans', Arial, Helvetica, sans-serif";
const SERIF = "'Liberation Serif', 'Times New Roman', serif";
const TEXT = "#262626";

const svg = d3.select("#fig");

// axes boxes in pixels; column time limits in seconds after T0
const cols = [
  { x0: 50,  x1: 513,  lim: [19.0, 418.3] },
  { x0: 659, x1: 1123, lim: [18.7, 419.3] }
];
const rows = [
  { y0: 51,  y1: 204.5 },
  { y0: 263, y1: 416 },
  { y0: 476.5, y1: 629 }
];

svg.append("text")
  .attr("x", 565).attr("y", 27)
  .attr("text-anchor", "middle")
  .attr("font-family", SANS).attr("font-size", 23.5).attr("fill", "#000")
  .text("Lane Curvature");

function panel(ci, ri, cfg) {
  const c = cols[ci], r = rows[ri];
  const w = c.x1 - c.x0, h = r.y1 - r.y0;
  const x = d3.scaleLinear().domain(c.lim.map(s => T0 + s)).range([c.x0, c.x1]);
  const y = d3.scaleLinear().domain(cfg.yDomain).range([r.y1, r.y0]);
  const g = svg.append("g");
  const clipId = `clip-${ci}-${ri}`;
  svg.append("defs").append("clipPath").attr("id", clipId)
    .append("rect").attr("x", c.x0).attr("y", r.y0).attr("width", w).attr("height", h);

  // grid
  const gridX = g.append("g").attr("transform", `translate(0,${r.y1})`)
    .call(d3.axisBottom(x).tickValues(timeTicks).tickSize(-h).tickFormat(""));
  const gridY = g.append("g").attr("transform", `translate(${c.x0},0)`)
    .call(d3.axisLeft(y).tickValues(cfg.yTicks).tickSize(-w).tickFormat(""));
  [gridX, gridY].forEach(a => {
    a.select(".domain").remove();
    a.selectAll("line").attr("stroke", "#e6e6e6").attr("stroke-width", 1);
  });

  // data
  const line = d3.line().x(d => x(T0 + d[0])).y(d => y(d[1]));
  g.append("g").attr("clip-path", `url(#${clipId})`)
    .selectAll("path").data(cfg.series).join("path")
    .attr("d", s => line(s.data))
    .attr("fill", "none")
    .attr("stroke", s => s.color)
    .attr("stroke-width", 0.65)
    .attr("stroke-linejoin", "round");

  // axes with inward ticks
  const ax = [
    g.append("g").attr("transform", `translate(0,${r.y1})`)
      .call(d3.axisBottom(x).tickValues(timeTicks).tickSizeInner(-4).tickSizeOuter(0).tickPadding(6)
        .tickFormat((d, i) => timeTickLabels[i])),
    g.append("g").attr("transform", `translate(0,${r.y0})`)
      .call(d3.axisTop(x).tickValues(timeTicks).tickSizeInner(-4).tickSizeOuter(0).tickFormat("")),
    g.append("g").attr("transform", `translate(${c.x0},0)`)
      .call(d3.axisLeft(y).tickValues(cfg.yTicks).tickSizeInner(-4).tickSizeOuter(0).tickPadding(5)
        .tickFormat(d => String(d))),
    g.append("g").attr("transform", `translate(${c.x1},0)`)
      .call(d3.axisRight(y).tickValues(cfg.yTicks).tickSizeInner(-4).tickSizeOuter(0).tickFormat(""))
  ];
  ax.forEach(a => {
    a.select(".domain").remove();
    a.selectAll("line").attr("stroke", "#555").attr("stroke-width", 0.6);
    a.selectAll("text").attr("fill", TEXT).attr("font-family", SANS).attr("font-size", 9.3);
  });

  g.append("rect").attr("x", c.x0).attr("y", r.y0).attr("width", w).attr("height", h)
    .attr("fill", "none").attr("stroke", "#7a7a7a").attr("stroke-width", 0.8);

  // exponent label
  const ex = g.append("text").attr("x", c.x1).attr("y", r.y1 + 30)
    .attr("text-anchor", "end").attr("font-family", SANS).attr("fill", TEXT).attr("font-size", 9);
  ex.append("tspan").text("\u00d710");
  ex.append("tspan").attr("dy", -4).attr("font-size", 7).text("9");

  // title
  g.append("text").attr("x", (c.x0 + c.x1) / 2).attr("y", r.y0 - 4)
    .attr("text-anchor", "middle").attr("font-family", SANS).attr("font-weight", "bold")
    .attr("font-size", 10).attr("fill", "#000").text(cfg.title);

  if (cfg.legend) {
    const lw = 148, lh = 24;
    const lx = c.x1 - 156, ly = r.y0 + 8.5;
    const lg = g.append("g").attr("transform", `translate(${lx},${ly})`);
    lg.append("rect").attr("width", lw).attr("height", lh)
      .attr("fill", "#fff").attr("stroke", "#7a7a7a").attr("stroke-width", 0.8);
    const items = lg.selectAll("g").data(cfg.series).join("g")
      .attr("transform", (d, i) => `translate(0,${7.5 + i * 11})`);
    items.append("line").attr("x1", 3).attr("x2", 30).attr("y1", 0).attr("y2", 0)
      .attr("stroke", d => d.color).attr("stroke-width", 0.9);
    items.append("text").attr("x", 34).attr("y", 3.2)
      .attr("font-family", SANS).attr("font-size", 9).attr("fill", TEXT)
      .text((d, i) => seriesNames[i]);
  }

  if (cfg.xLabel) {
    g.append("text").attr("x", (c.x0 + c.x1) / 2).attr("y", r.y1 + 31)
      .attr("text-anchor", "middle").attr("font-family", SANS).attr("font-size", 16)
      .attr("fill", TEXT).text(cfg.xLabel);
  }
  return { x, y };
}

panel(0, 0, { title: "Left Lane", yDomain: [-1.5, 1.5], yTicks: curvTicks, legend: true,
  series: [{ data: leftLead, color: BLUE }, { data: leftFollow, color: ORANGE }] });
panel(1, 0, { title: "Right Lane", yDomain: [-1.5, 1.5], yTicks: curvTicks, legend: true,
  series: [{ data: rightLead, color: BLUE }, { data: rightFollow, color: ORANGE }] });
panel(0, 1, { title: "Mahalanobis Distance", yDomain: [0, 5], yTicks: mahalTicks,
  series: [{ data: leftMahal, color: BLUE }] });
panel(1, 1, { title: "Mahalanobis Distance", yDomain: [0, 5], yTicks: mahalTicks,
  series: [{ data: rightMahal, color: BLUE }] });
panel(0, 2, { title: "Left Lane Range Normalized Area", yDomain: [-20, 20], yTicks: areaTicks, xLabel: "Time (s)",
  series: [{ data: leftArea, color: BLUE }] });
panel(1, 2, { title: "Right Lane Normalized Area", yDomain: [-20, 20], yTicks: areaTicks, xLabel: "Time (s)",
  series: [{ data: rightArea, color: BLUE }] });

// y-axis labels
(function curvatureLabel() {
  const yMid = (rows[0].y0 + rows[0].y1) / 2;
  const g = svg.append("g").attr("transform", `translate(24,${yMid}) rotate(-90)`);
  const main = g.append("text").attr("font-family", SERIF).attr("font-size", 17).attr("fill", TEXT)
    .text("Measured Curvature");
  const mw = main.node().getComputedTextLength();
  const gap = 5, parenW = 7, fracW = 16;
  const total = mw + gap + parenW + fracW + parenW;
  const start = -total / 2;
  main.attr("x", start);
  let px = start + mw + gap;
  g.append("text").attr("x", px).attr("y", 0).attr("font-family", SERIF).attr("font-size", 23)
    .attr("fill", TEXT).text("(");
  const fx = px + parenW + fracW / 2;
  g.append("text").attr("x", fx).attr("y", -8.5).attr("text-anchor", "middle")
    .attr("font-family", SERIF).attr("font-size", 10).attr("fill", TEXT).text("1");
  g.append("line").attr("x1", fx - fracW / 2 + 1).attr("x2", fx + fracW / 2 - 1)
    .attr("y1", -6).attr("y2", -6).attr("stroke", TEXT).attr("stroke-width", 0.7);
  g.append("text").attr("x", fx).attr("y", 2).attr("text-anchor", "middle")
    .attr("font-family", SERIF).attr("font-style", "italic").attr("font-size", 10).attr("fill", TEXT).text("Km");
  g.append("text").attr("x", px + parenW + fracW).attr("y", 0).attr("font-family", SERIF).attr("font-size", 23)
    .attr("fill", TEXT).text(")");
})();

function sideLabel(text, cx, cy, size) {
  svg.append("text").attr("transform", `translate(${cx},${cy}) rotate(-90)`)
    .attr("text-anchor", "middle").attr("font-family", SANS).attr("font-size", size)
    .attr("fill", TEXT).text(text);
}
sideLabel("Mahalanobis Distance", 34, (rows[1].y0 + rows[1].y1) / 2, 15);
sideLabel("Left Lane Range Normalized Area(m)", 28, 550, 14.4);
</script>
</body>
</html>
